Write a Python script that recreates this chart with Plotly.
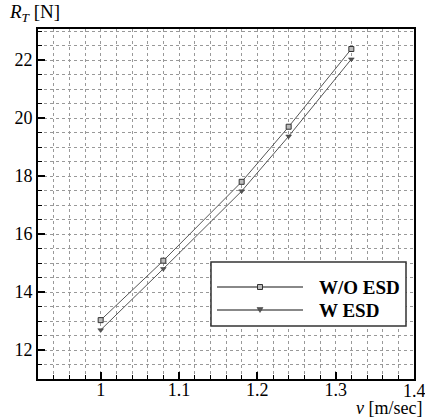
import plotly.graph_objects as go

v = [1.0, 1.08, 1.18, 1.24, 1.32]
rt_wo_esd = [13.03, 15.08, 17.80, 19.70, 22.38]
rt_w_esd = [12.69, 14.80, 17.48, 19.37, 22.03]
names = ["W/O ESD", "W ESD"]
x_tick_vals = [1.0, 1.1, 1.2, 1.3, 1.4]
x_tick_text = ["1", "1.1", "1.2", "1.3", "1.4"]

FONT = "Liberation Serif"
L, R, T, B = 38, 11, 29, 38
W, H = 425, 417
pw, ph = W - L - R, H - T - B

def px(x):
    return (x - L) / pw

def py(y):
    return (H - B - y) / ph

fig = go.Figure()
fig.add_trace(go.Scatter(x=v, y=rt_wo_esd, mode="lines+markers", name=names[0],
                         line=dict(color="#555", width=1),
                         marker=dict(symbol="square", size=5, color="#bbb",
                                     line=dict(color="#333", width=1)),
                         showlegend=False))
fig.add_trace(go.Scatter(x=v, y=rt_w_esd, mode="lines+markers", name=names[1],
                         line=dict(color="#555", width=1),
                         marker=dict(symbol="triangle-down", size=5, color="#555",
                                     line=dict(color="#333", width=0.5)),
                         showlegend=False))

# custom legend box (drawn as shapes above the plot)
fig.add_shape(type="rect", xref="paper", yref="paper",
              x0=px(211), x1=px(406), y0=py(326), y1=py(262),
              line=dict(color="#333", width=1.5), fillcolor="white", layer="above")
leg_py = [287, 310]
for i, yp in enumerate(leg_py):
    yy = py(yp)
    fig.add_shape(type="line", xref="paper", yref="paper",
                  x0=px(217), x1=px(303), y0=yy, y1=yy,
                  line=dict(color="#888", width=2), layer="above")
    fig.add_annotation(x=px(317), y=yy, xref="paper", yref="paper", text="<b>%s</b>" % names[i],
                       showarrow=False, xanchor="left", yanchor="middle",
                       font=dict(family=FONT, size=19, color="black"))
# legend symbols
fig.add_shape(type="rect", xref="paper", yref="paper",
              x0=px(257.5), x1=px(262.5), y0=py(289.5), y1=py(284.5),
              line=dict(color="#333", width=1), fillcolor="#bbb", layer="above")
fig.add_shape(type="path", xref="paper", yref="paper",
              path="M %f,%f L %f,%f L %f,%f Z" % (px(257), py(307.5), px(263), py(307.5), px(260), py(312.5)),
              line=dict(color="#333", width=0.5), fillcolor="#555", layer="above")

# last x tick label overflows the figure edge; plotly would drop it, so place it at its axis value
fig.add_annotation(x=x_tick_vals[-1], y=py(390.5), xref="x", yref="paper", text=x_tick_text[-1],
                   showarrow=False, xanchor="center", yanchor="middle",
                   font=dict(family=FONT, size=18, color="black"))

fig.add_annotation(x=px(7), y=py(27), xref="paper", yref="paper",
                   text="<i>R</i><sub><i>T</i></sub> [N]", showarrow=False,
                   xanchor="left", yanchor="bottom", font=dict(family=FONT, size=19, color="black"))
fig.add_annotation(x=px(424), y=py(396), xref="paper", yref="paper",
                   text="<i>v</i> [m/sec]", showarrow=False,
                   xanchor="right", yanchor="top", font=dict(family=FONT, size=18, color="black"))

grid = dict(showgrid=True, gridcolor="#999", griddash="dot", gridwidth=1)
tickfont = dict(family=FONT, size=18, color="black")
fig.update_layout(
    width=W, height=H, margin=dict(l=L, r=R, t=T, b=B, autoexpand=False),
    paper_bgcolor="white", plot_bgcolor="white",
    font=dict(family=FONT, size=18, color="black"),
    xaxis=dict(range=[0.92, 1.4], tickmode="array", tickvals=x_tick_vals, ticktext=x_tick_text,
               ticks="inside", ticklen=7, tickwidth=2,
               tickcolor="black", showline=True, linecolor="black", linewidth=2, mirror=True,
               zeroline=False, ticklabelstandoff=-7, tickfont=tickfont, automargin=False, **grid,
               minor=dict(dtick=0.02, tick0=0.92, ticks="inside", ticklen=4, tickwidth=1,
                          tickcolor="black", **grid)),
    yaxis=dict(range=[11, 23.07], tick0=12, dtick=2, ticks="inside", ticklen=7, tickwidth=2,
               tickcolor="black", showline=True, linecolor="black", linewidth=2, mirror=True,
               zeroline=False, tickfont=tickfont, automargin=False, **grid,
               minor=dict(dtick=0.5, tick0=11, ticks="inside", ticklen=4, tickwidth=1,
                          tickcolor="black", **grid)),
)
fig.write_html("out.html")
